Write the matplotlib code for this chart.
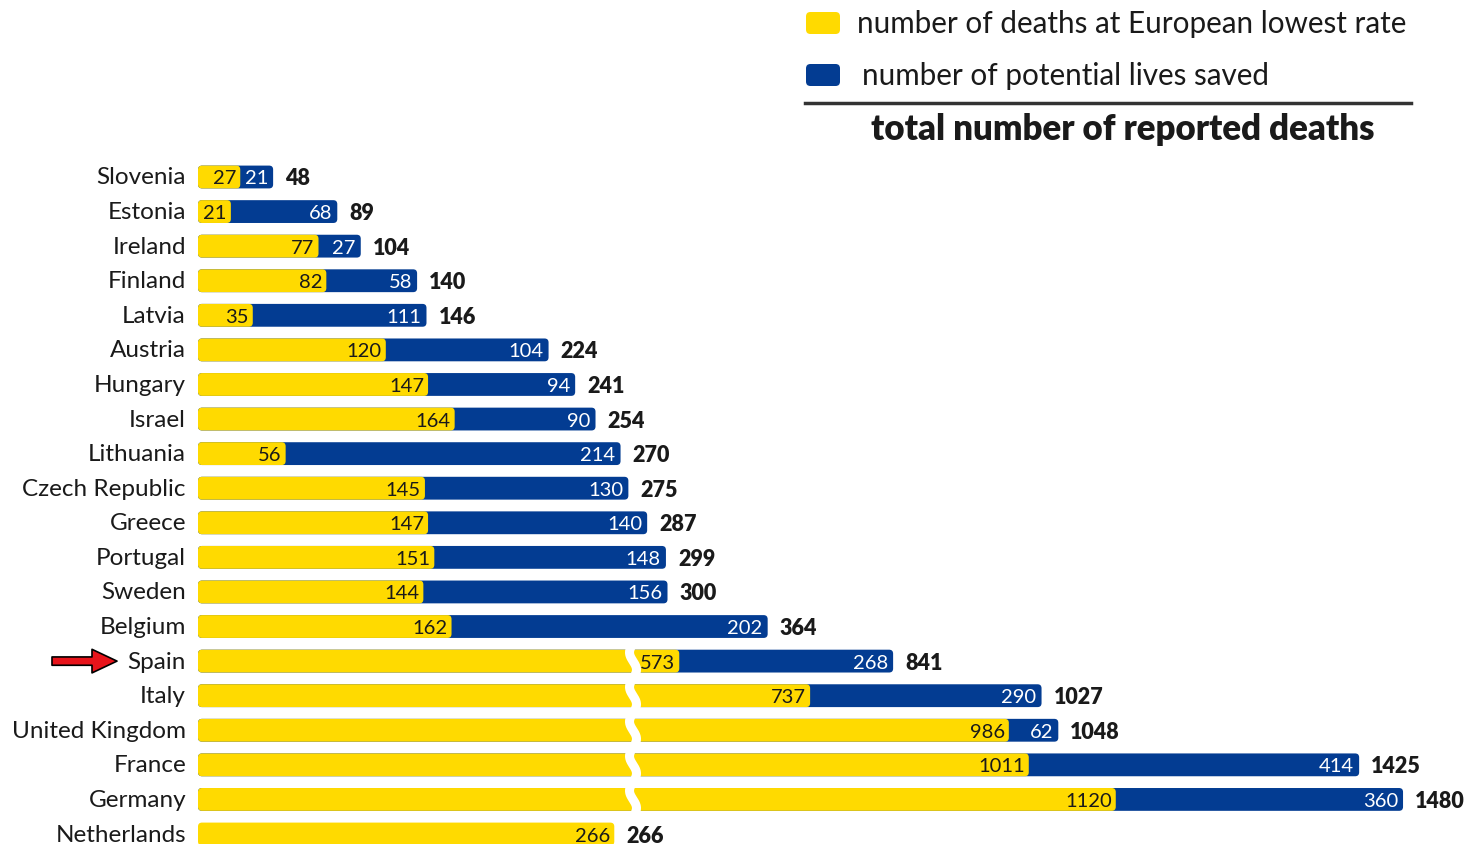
import matplotlib.pyplot as plt
import numpy as np
from matplotlib.patches import FancyBboxPatch

# datos
countries = ["Slovenia", "Estonia", "Ireland", "Finland", "Latvia", "Austria",
             "Hungary", "Israel", "Lithuania", "Czech Republic", "Greece",
             "Portugal", "Sweden", "Belgium", "Spain", "Italy",
             "United Kingdom", "France", "Germany", "Netherlands"]
lowest_rate = [27, 21, 77, 82, 35, 120, 147, 164, 56, 145, 147, 151, 144, 162,
               573, 737, 986, 1011, 1120, 266]
lives_saved = [21, 68, 27, 58, 111, 104, 94, 90, 214, 130, 140, 148, 156, 202,
               268, 290, 62, 414, 360, 0]
total_deaths = [48, 89, 104, 140, 146, 224, 241, 254, 270, 275, 287, 299, 300,
                364, 841, 1027, 1048, 1425, 1480, 266]
highlight = "Spain"

YELLOW = "#FFDA00"
BLUE = "#033C92"
INK = "#1a1a1a"
FONT = "Lato"

W, H = 1476, 845
fig = plt.figure(figsize=(W / 100, H / 100), dpi=100)
ax = fig.add_axes([0, 0, 1, 1])
ax.axis("off")

px_unit = 1.565          # pixels per death on the normal scale
row_px = 34.58
ax.set_xlim(-198 / px_unit, (W - 198) / px_unit)
ax.set_ylim(19 + 10 / row_px, -178 / row_px)

break_at = 500
def scale(v, broken):
    # rows over the break are drawn on a compressed scale
    if broken:
        return (24 + 0.798 * v) / px_unit
    return v

aspect = px_unit / row_px
bar_h = 0.66
r = 4 / px_unit

def rbox(x0, x1, y, color):
    p = FancyBboxPatch((x0, y - bar_h / 2), x1 - x0, bar_h,
                       boxstyle="round,pad=0,rounding_size=%f" % r,
                       mutation_aspect=aspect, fc=color, ec="none")
    ax.add_patch(p)

broken_rows = []
for i, c in enumerate(countries):
    brk = total_deaths[i] > break_at
    if brk:
        broken_rows.append(i)
    xt = scale(total_deaths[i], brk)
    xy = scale(lowest_rate[i], brk)
    if lives_saved[i] > 0:
        rbox(0, xt, i, BLUE)
    rbox(0, xy, i, YELLOW)

    ax.annotate(c, (0, i), xytext=(-12, 0), textcoords="offset pixels",
                ha="right", va="center", fontsize=17.5, color=INK, family=FONT)
    ax.annotate(str(lowest_rate[i]), (xy, i), xytext=(-4, -1),
                textcoords="offset pixels", ha="right", va="center",
                fontsize=14.5, color=INK, family=FONT)
    if lives_saved[i] > 0:
        ax.annotate(str(lives_saved[i]), (xt, i), xytext=(-5, -1),
                    textcoords="offset pixels", ha="right", va="center",
                    fontsize=14.5, color="white", family=FONT)
    ax.annotate(str(total_deaths[i]), (xt, i), xytext=(12, -1),
                textcoords="offset pixels", ha="left", va="center",
                fontsize=15.5, color=INK, family=FONT, weight="heavy")

# corte del eje
if broken_rows:
    xb = (633 - 198) / px_unit
    ys = np.linspace(broken_rows[0] - 0.45, broken_rows[-1] + 0.45, 300)
    xs = xb + (3.5 / px_unit) * np.sin((ys - broken_rows[0]) * 2 * np.pi)
    ax.plot(xs, ys, color="white", lw=6.5, solid_capstyle="butt")

# flecha roja
hi = countries.index(highlight)
ax.annotate("", xy=(-81 / px_unit, hi), xytext=(-146 / px_unit, hi),
            arrowprops=dict(arrowstyle="simple,head_length=0.9,head_width=0.85,tail_width=0.3",
                            mutation_scale=20, shrinkA=0, shrinkB=0,
                            fc="#E8141B", ec="black", lw=1.2))

# leyenda
def fx(x): return x / W
def fy(y): return 1 - y / H
for yy, col, txt, tx in [(24, YELLOW, "number of deaths at European lowest rate", 857),
                         (76, BLUE, "number of potential lives saved", 862)]:
    sq = FancyBboxPatch((fx(806), fy(yy + 11)), fx(34), 22 / H,
                        boxstyle="round,pad=0,rounding_size=0.003",
                        mutation_aspect=W / H, fc=col, ec="none",
                        transform=fig.transFigure)
    fig.patches.append(sq)
    fig.text(fx(tx), fy(yy), txt, ha="left", va="center", fontsize=21.3,
             color=INK, family=FONT)
fig.add_artist(plt.Line2D([fx(805), fx(1411)], [fy(104), fy(104)],
                          color="#333333", lw=2.5, transform=fig.transFigure))
fig.text(fx(1123), fy(130), "total number of reported deaths", ha="center",
         va="center", fontsize=25, color=INK, family=FONT, weight="heavy")

fig.savefig("out.png", dpi=100, facecolor="white")
